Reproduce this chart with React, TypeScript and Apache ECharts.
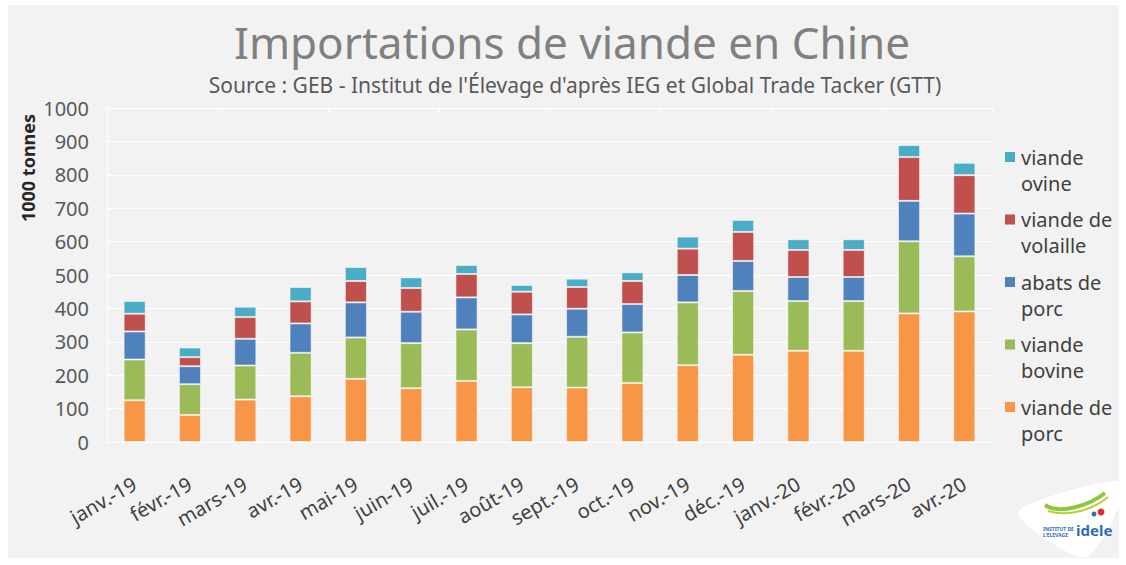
import React, { useEffect, useRef } from "react";
import * as echarts from "echarts";

const categories = [
  "janv.-19", "févr.-19", "mars-19", "avr.-19", "mai-19", "juin-19", "juil.-19", "août-19",
  "sept.-19", "oct.-19", "nov.-19", "déc.-19", "janv.-20", "févr.-20", "mars-20", "avr.-20",
];

const viandePorc = [125, 81, 127, 137, 189, 161, 183, 164, 163, 177, 230, 261, 273, 273, 385, 391];
const viandeBovine = [122, 92, 102, 130, 124, 135, 154, 132, 152, 151, 188, 191, 149, 149, 216, 165];
const abatsPorc = [84, 54, 80, 88, 105, 94, 96, 86, 84, 85, 82, 90, 72, 72, 121, 128];
const viandeVolaille = [53, 27, 65, 66, 64, 71, 70, 68, 65, 69, 79, 87, 81, 81, 131, 115];
const viandeOvine = [38, 29, 31, 43, 42, 32, 27, 20, 25, 26, 36, 36, 32, 32, 36, 37];

const seriesNames = ["viande de porc", "viande bovine", "abats de porc", "viande de volaille", "viande ovine"];
const legendLabels = ["viande de\nporc", "viande\nbovine", "abats de\nporc", "viande de\nvolaille", "viande\novine"];
const seriesColors = ["#F79646", "#9BBB59", "#4F81BD", "#C0504D", "#4BACC6"];
const seriesData = [viandePorc, viandeBovine, abatsPorc, viandeVolaille, viandeOvine];

const yTicks = { min: 0, max: 1000, interval: 100 };

const titleText = "Importations de viande en Chine";
const subtitleText = "Source : GEB - Institut de l'Élevage d'après IEG et Global Trade Tacker (GTT)";
const yAxisTitle = "1000 tonnes";

const FONT = "'Noto Sans', 'DejaVu Sans', sans-serif";

export default function App() {
  const ref = useRef<HTMLDivElement>(null);

  useEffect(() => {
    if (!ref.current) return;
    const chart = echarts.init(ref.current, null, { renderer: "svg" });

    const legendGraphics: any[] = [];
    for (let k = 0; k < 5; k++) {
      const idx = 4 - k;
      const cy = 157 + k * 62.5;
      legendGraphics.push({
        type: "rect",
        shape: { x: 1005, y: cy - 5, width: 10, height: 10 },
        style: { fill: seriesColors[idx] },
      });
      legendGraphics.push({
        type: "text",
        x: 1021,
        y: cy - 13,
        style: {
          text: legendLabels[idx],
          fontSize: 20,
          lineHeight: 26,
          fontFamily: FONT,
          fill: "#404040",
          verticalAlign: "top",
          align: "left",
        },
      });
    }

    const option: any = {
      animation: false,
      backgroundColor: "#ffffff",
      grid: { left: 107, right: 134, top: 108, bottom: 123, containLabel: false },
      xAxis: [
        {
          type: "category",
          data: categories,
          axisLine: { show: true, lineStyle: { color: "#ffffff", width: 1 } },
          axisTick: { show: false },
          axisLabel: {
            rotate: 30,
            margin: 40,
            fontSize: 20,
            color: "#404040",
            fontFamily: FONT,
            interval: 0,
          },
        },
        {
          type: "category",
          data: categories,
          position: "top",
          axisLine: { show: true, lineStyle: { color: "#ffffff" } },
          axisTick: { show: true, inside: true, length: 5, lineStyle: { color: "#ffffff" } },
          axisLabel: { show: false },
        },
      ],
      yAxis: {
        type: "value",
        min: yTicks.min,
        max: yTicks.max,
        interval: yTicks.interval,
        axisLine: { show: true, lineStyle: { color: "#ffffff" } },
        axisTick: { show: false },
        splitLine: { show: true, lineStyle: { color: "#ffffff", width: 1 } },
        axisLabel: {
          fontSize: 20,
          color: "#595959",
          fontFamily: FONT,
          margin: 18,
          formatter: (v: number) => String(v),
        },
      },
      series: seriesNames.map((name, i) => ({
        name,
        type: "bar",
        stack: "total",
        data: seriesData[i],
        barWidth: "40%",
        itemStyle: { color: seriesColors[i], borderColor: "rgba(255,255,255,0.55)", borderWidth: 1 },
      })),
      graphic: [
        {
          type: "rect",
          z: -10,
          shape: { x: 8, y: 5, width: 1111, height: 553 },
          style: { fill: "#f2f2f2" },
          silent: true,
        },
        {
          type: "text",
          x: 572,
          y: 42,
          style: {
            text: titleText,
            fontSize: 44,
            fontFamily: FONT,
            fill: "#808080",
            align: "center",
            verticalAlign: "middle",
          },
        },
        {
          type: "text",
          x: 575,
          y: 85,
          style: {
            text: subtitleText,
            fontSize: 21,
            fontFamily: FONT,
            fill: "#595959",
            align: "center",
            verticalAlign: "middle",
          },
        },
        {
          type: "text",
          x: 28,
          y: 168,
          rotation: Math.PI / 2,
          style: {
            text: yAxisTitle,
            fontSize: 18,
            fontWeight: "bold",
            fontFamily: FONT,
            fill: "#262626",
            align: "center",
            verticalAlign: "middle",
          },
        },
        ...legendGraphics,
        {
          type: "polygon",
          shape: {
            points: [[1018, 512], [1124, 482], [1086, 557]],
            smooth: 0.25,
          },
          style: { fill: "#ffffff" },
        },
        {
          type: "bezierCurve",
          shape: { x1: 1045, y1: 505, x2: 1105, y2: 493, cpx1: 1060, cpy1: 515, cpx2: 1090, cpy2: 505 },
          style: { stroke: "#8cc63f", lineWidth: 4, fill: "none" },
        },
        {
          type: "bezierCurve",
          shape: { x1: 1048, y1: 511, x2: 1108, y2: 497, cpx1: 1070, cpy1: 518, cpx2: 1095, cpy2: 508 },
          style: { stroke: "#b5d334", lineWidth: 2, fill: "none" },
        },
        {
          type: "circle",
          shape: { cx: 1101, cy: 512, r: 3.5 },
          style: { fill: "#e03030" },
        },
        {
          type: "circle",
          shape: { cx: 1094, cy: 514, r: 2.5 },
          style: { fill: "#2f6db5" },
        },
        {
          type: "text",
          x: 1043,
          y: 526,
          style: {
            text: "INSTITUT DE\nL'ELEVAGE",
            fontSize: 5,
            lineHeight: 6,
            fontWeight: "bold",
            fontFamily: FONT,
            fill: "#2f6db5",
            verticalAlign: "top",
          },
        },
        {
          type: "text",
          x: 1076,
          y: 522,
          style: {
            text: "idele",
            fontSize: 15,
            fontWeight: "bold",
            fontFamily: FONT,
            fill: "#2f6db5",
            verticalAlign: "top",
          },
        },
      ],
    };

    chart.setOption(option);
    return () => chart.dispose();
  }, []);

  return (
    <div
      ref={ref}
      style={{ position: "absolute", left: 0, top: 0, width: 1126, height: 565 }}
    />
  );
}
